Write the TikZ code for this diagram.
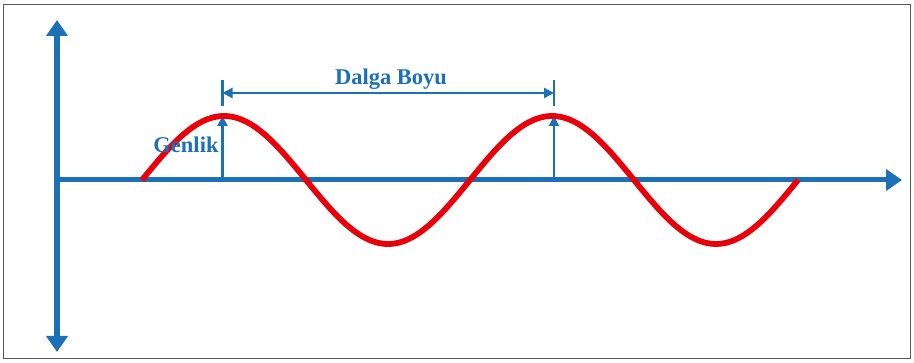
\documentclass[tikz,border=0pt]{standalone}
\usepackage{fontspec}
\setmainfont{Liberation Serif}
\usepackage{xcolor}
\usetikzlibrary{arrows.meta,positioning}
\definecolor{axisblue}{HTML}{1B70B8}
\definecolor{wavered}{HTML}{E8000B}
\tikzset{
    bigtip/.tip={Triangle[width=21pt,length=16pt]},
    smalltip/.tip={Triangle[width=10pt,length=10pt]},
}

\begin{document}
\begin{tikzpicture}[
    x=1pt, y=-1pt,
    axis/.style={line width=6pt, axisblue},
    wave/.style={line width=5.8pt, wavered},
    dim/.style={line width=2.6pt, axisblue},
    lbl/.style={text=axisblue, font=\fontsize{22.5}{24}\selectfont\bfseries, inner sep=0pt},
]
    \useasboundingbox (0,0) rectangle (914,363);
    \draw[gray!70!black, line width=1pt] (3.5,5) rectangle (910.5,358.5);

    % Axes
    \coordinate (origin) at (57,180);
    \coordinate (ytop) at (57,20);
    \coordinate (ybot) at (57,352);
    \coordinate (xend) at (902,180);
    \draw[axis, bigtip-bigtip] (ybot) -- (ytop);
    \draw[axis, -bigtip, line width=5pt] (origin) -- (xend);

    % Amplitude and wavelength marks
    \coordinate (base1) at (222.5,180);
    \coordinate (peak1) at (222.5,116);
    \coordinate (base2) at (554,180);
    \coordinate (peak2) at (554,116);
    \draw[dim, -smalltip] (base1) -- (peak1);
    \draw[dim, -smalltip] (base2) -- (peak2);

    \coordinate (tick1) at (222.5,80);
    \coordinate (tick1b) at (222.5,106);
    \coordinate (tick2) at (554,80);
    \coordinate (tick2b) at (554,106);
    \coordinate (span1) at (222.5,93);
    \coordinate (span2) at (554,93);
    \draw[dim] (tick1) -- (tick1b);
    \draw[dim] (tick2) -- (tick2b);
    \draw[dim, smalltip-smalltip] (span1) -- (span2);

    % Wave
    \draw[wave] plot[domain=142:798, samples=120, smooth] (\x, {180-64*sin((\x-142)/328*360)});

    % Labels
    \node[lbl] (genlik) at (186,145) {Genlik};
    \node[lbl] (boyu) at (391,79) {Dalga Boyu};
\end{tikzpicture}
\end{document}
